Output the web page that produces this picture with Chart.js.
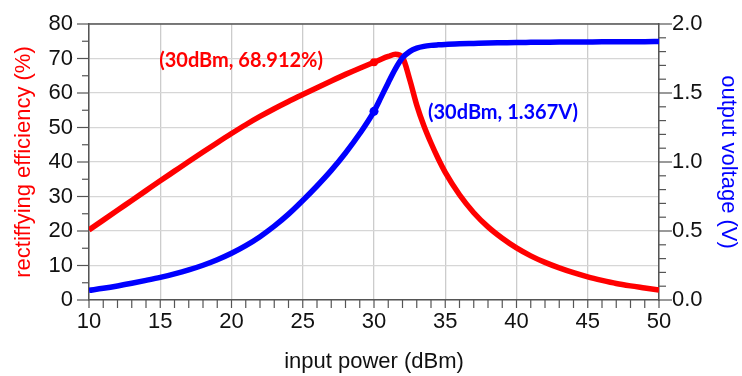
<!DOCTYPE html>
<html>
<head>
<meta charset="utf-8">
<script src="https://cdn.jsdelivr.net/npm/chart.js@4.4.1/dist/chart.umd.min.js"></script>
<style>
  html, body { margin: 0; padding: 0; background: #fff; }
</style>
</head>
<body>
<canvas id="chart" width="742" height="376"></canvas>
<script>
// values
const power = [10, 11, 12, 13, 14, 15, 16, 17, 18, 19, 20, 21, 22, 23, 24, 25, 26, 27, 28, 29, 30,
  30.5, 31, 31.5, 32, 32.5, 33, 33.5, 34, 34.5, 35,
  36, 37, 38, 39, 40, 41, 42, 43, 44, 45, 46, 47, 48, 49, 50];
const efficiency = [20.3, 23.15, 26.0, 28.85, 31.7, 34.55, 37.35, 40.15, 42.9, 45.6, 48.25, 50.8, 53.2, 55.45, 57.55, 59.55, 61.55, 63.5, 65.4, 67.2, 68.9,
  69.8, 70.6, 71.2, 70.3, 64.0, 56.5, 50.5, 45.5, 41.0, 37.0,
  30.5, 25.3, 21.2, 17.9, 15.1, 12.8, 10.9, 9.3, 7.9, 6.7, 5.7, 4.8, 4.1, 3.5, 2.9];
const voltage = [0.07, 0.085, 0.102, 0.121, 0.142, 0.164, 0.189, 0.218, 0.252, 0.292, 0.339, 0.394, 0.459, 0.535, 0.622, 0.721, 0.826, 0.939, 1.065, 1.206, 1.367,
  1.47, 1.575, 1.675, 1.755, 1.8, 1.825, 1.838, 1.845, 1.849, 1.852,
  1.856, 1.859, 1.862, 1.864, 1.866, 1.867, 1.868, 1.869, 1.869, 1.870, 1.871, 1.871, 1.872, 1.872, 1.873];

const markPower = 30;
const markEfficiency = 68.912;
const markVoltage = 1.367;
const effLabel = '(30dBm, 68.912%)';
const voltLabel = '(30dBm, 1.367V)';
const xTitle = 'input power (dBm)';
const yTitle = 'rectiffying efficiency (%)';
const y1Title = 'output voltage (V)';

const RED = '#ff0000';
const BLUE = '#0000ff';
const AXIS = '#555555';
const GRID = '#d6d6d6';
const tickFont = { family: 'Liberation Sans', size: 22 };

const pts = (ys) => power.map((p, i) => ({ x: p, y: ys[i] }));

// fixed box sizes so the plot area lands where the reference has it
const fixBox = (w, h) => s => {
  if (w) s.width = w;
  if (h) s.height = h;
  s.paddingTop = 0; s.paddingBottom = 0; s.paddingLeft = 0; s.paddingRight = 0;
};

// extra drawing: top frame, tick marks (major / minor), axis titles, point labels
const extras = {
  id: 'extras',
  afterDraw(chart) {
    const { ctx, chartArea: a, scales } = chart;
    const line = (x1, y1, x2, y2) => { ctx.beginPath(); ctx.moveTo(x1, y1); ctx.lineTo(x2, y2); ctx.stroke(); };
    ctx.save();
    ctx.strokeStyle = AXIS;
    ctx.lineWidth = 1.5;
    line(a.left, a.top, a.right, a.top);

    ctx.lineWidth = 1.2;
    scales.x.ticks.forEach(t => {
      const px = scales.x.getPixelForValue(t.value);
      line(px, a.bottom, px, a.bottom + 8);
    });
    scales.y.ticks.forEach(t => {
      const py = scales.y.getPixelForValue(t.value);
      const len = t.value % 10 === 0 ? 12 : 7;
      line(a.left - len, py, a.left, py);
    });
    scales.y1.ticks.forEach(t => {
      const py = scales.y1.getPixelForValue(t.value);
      const len = Math.round(t.value * 10) % 5 === 0 ? 13 : 7;
      line(a.right, py, a.right + len, py);
    });

    ctx.textAlign = 'center';
    ctx.textBaseline = 'middle';
    ctx.font = '22px "Liberation Sans"';
    ctx.fillStyle = '#111';
    ctx.fillText(xTitle, (a.left + a.right) / 2, 362);

    ctx.save();
    ctx.translate(24, (a.top + a.bottom) / 2);
    ctx.rotate(-Math.PI / 2);
    ctx.fillStyle = RED;
    ctx.fillText(yTitle, 0, 0);
    ctx.restore();

    ctx.save();
    ctx.translate(728, (a.top + a.bottom) / 2);
    ctx.rotate(Math.PI / 2);
    ctx.fillStyle = BLUE;
    ctx.fillText(y1Title, 0, 0);
    ctx.restore();

    ctx.font = 'bold 20px Lato';
    const mx = scales.x.getPixelForValue(markPower);
    ctx.fillStyle = RED;
    ctx.textAlign = 'right';
    ctx.fillText(effLabel, mx - 51, scales.y.getPixelForValue(markEfficiency) - 2);
    ctx.fillStyle = BLUE;
    ctx.textAlign = 'left';
    ctx.fillText(voltLabel, mx + 54, scales.y1.getPixelForValue(markVoltage) + 1);
    ctx.restore();
  }
};

new Chart(document.getElementById('chart'), {
  type: 'line',
  data: {
    datasets: [
      { data: [{ x: markPower, y: markVoltage }], yAxisID: 'y1', showLine: false,
        pointRadius: 4.5, pointBackgroundColor: BLUE, pointBorderWidth: 0 },
      { data: pts(voltage), yAxisID: 'y1', borderColor: BLUE, borderWidth: 5.5,
        pointRadius: 0, cubicInterpolationMode: 'monotone', fill: false },
      { data: [{ x: markPower, y: markEfficiency }], yAxisID: 'y', showLine: false,
        pointRadius: 4, pointBackgroundColor: RED, pointBorderWidth: 0 },
      { data: pts(efficiency), yAxisID: 'y', borderColor: RED, borderWidth: 5.5,
        pointRadius: 0, cubicInterpolationMode: 'monotone', fill: false }
    ]
  },
  options: {
    responsive: false,
    animation: false,
    layout: { padding: { top: 24, left: 0, right: 0, bottom: 0 } },
    plugins: { legend: { display: false }, tooltip: { enabled: false } },
    scales: {
      x: {
        type: 'linear', min: 10, max: 50,
        ticks: {
          stepSize: 1, autoSkip: false, maxRotation: 0, maxTicksLimit: 100,
          color: '#111', font: tickFont, padding: 9,
          callback: v => (v % 5 === 0 ? v : '')
        },
        grid: {
          drawTicks: false, lineWidth: 1.3,
          color: c => (c.tick && c.tick.value % 5 === 0 ? '#cccccc' : 'transparent')
        },
        border: { color: AXIS, width: 1.5 },
        afterFit: fixBox(0, 76)
      },
      y: {
        position: 'left', min: 0, max: 80,
        ticks: {
          stepSize: 5, autoSkip: false, maxTicksLimit: 100, color: '#111', font: tickFont, padding: 16,
          callback: v => (v % 10 === 0 ? v : '')
        },
        grid: {
          drawTicks: false, lineWidth: 1.3,
          color: c => (c.tick && c.tick.value % 10 === 0 ? GRID : 'transparent')
        },
        border: { color: AXIS, width: 1.5 },
        afterFit: fixBox(89, 0)
      },
      y1: {
        position: 'right', min: 0, max: 2,
        ticks: {
          stepSize: 0.1, autoSkip: false, maxTicksLimit: 100, color: '#111', font: tickFont, padding: 13,
          callback: v => (Math.round(v * 10) % 5 === 0 ? v.toFixed(1) : '')
        },
        grid: { display: false, drawTicks: false },
        border: { color: AXIS, width: 1.5 },
        afterFit: fixBox(83, 0)
      }
    }
  },
  plugins: [extras]
});
</script>
</body>
</html>
